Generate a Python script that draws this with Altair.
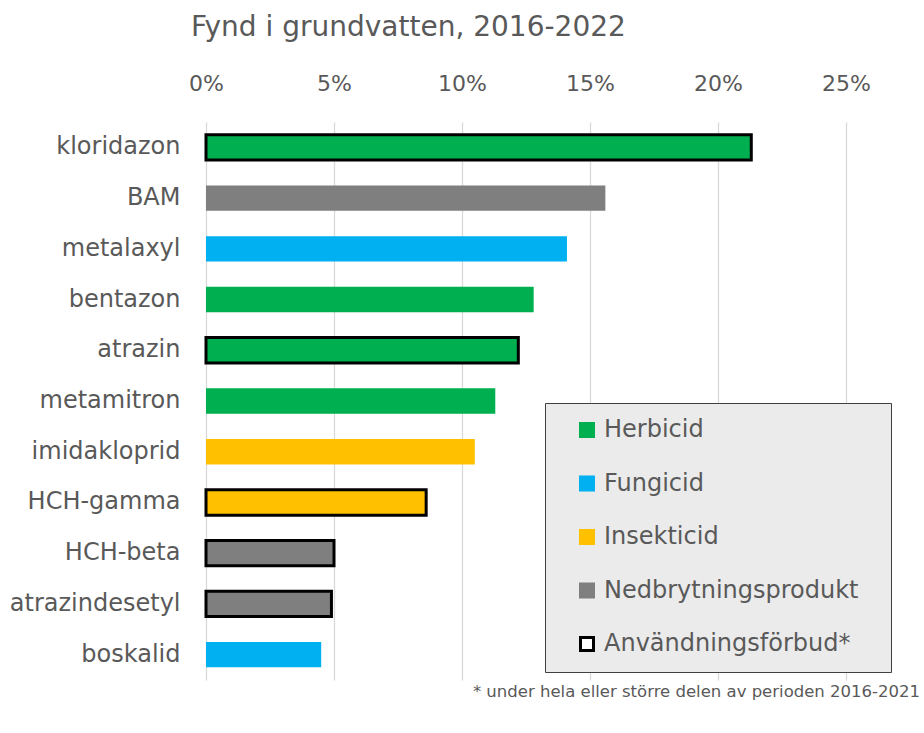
import altair as alt
import pandas as pd

names = ["kloridazon", "BAM", "metalaxyl", "bentazon", "atrazin", "metamitron",
         "imidakloprid", "HCH-gamma", "HCH-beta", "atrazindesetyl", "boskalid"]
values = [21.3, 15.6, 14.1, 12.8, 12.2, 11.3, 10.5, 8.6, 5.0, 4.9, 4.5]
kategori = ["Herbicid", "Nedbrytningsprodukt", "Fungicid", "Herbicid", "Herbicid", "Herbicid",
            "Insekticid", "Insekticid", "Nedbrytningsprodukt", "Nedbrytningsprodukt", "Fungicid"]
forbud = [True, False, False, False, True, False, False, True, True, True, False]

categories = ["Herbicid", "Fungicid", "Insekticid", "Nedbrytningsprodukt"]
category_colors = ["#00B050", "#00B0F0", "#FFC000", "#7F7F7F"]
legend_labels = categories + ["Användningsförbud*"]
fill_colors = category_colors + ["#FFFFFF"]
stroke_colors = category_colors + ["#000000"]

title_text = "Fynd i grundvatten, 2016-2022"
footnote = "* under hela eller större delen av perioden 2016-2021"
x_ticks = [0, 0.05, 0.10, 0.15, 0.20, 0.25]

FONT = "DejaVu Sans"
GREY = "#595959"
W, H = 640, 558

df = pd.DataFrame({
    "namn": names,
    "andel": [v / 100 for v in values],
    "kategori": kategori,
    "forbud": forbud,
})
leg_df = pd.DataFrame({"etikett": legend_labels})
note_df = pd.DataFrame({"t": [footnote]})

bars = alt.Chart(df).mark_bar(stroke="black").encode(
    x=alt.X("andel:Q",
            scale=alt.Scale(domain=[0, 0.25], nice=False),
            axis=alt.Axis(orient="top", format=".0%", values=x_ticks, title=None,
                          domain=False, ticks=False, grid=True, gridColor="#D9D9D9",
                          gridWidth=1.3, labelFont=FONT, labelFontSize=22,
                          labelColor=GREY, labelPadding=27, labelFlush=False)),
    y=alt.Y("namn:N", sort=names,
            scale=alt.Scale(paddingInner=0.5, paddingOuter=0.25),
            axis=alt.Axis(title=None, domain=False, ticks=False, labelFont=FONT,
                          labelFontSize=24, labelColor=GREY, labelPadding=26)),
    color=alt.Color("kategori:N",
                    scale=alt.Scale(domain=categories, range=category_colors),
                    legend=None),
    strokeWidth=alt.condition("datum.forbud", alt.value(3), alt.value(0)),
)

leg = alt.Legend(title=" ", titleOrient="right", titleFontSize=2, titlePadding=17,
                 orient="none", legendX=339, legendY=281,
                 fillColor="#EBEBEB", strokeColor="#404040",
                 padding=15, symbolType="square", symbolSize=169,
                 symbolStrokeWidth=3, symbolOffset=15, symbolOpacity=1,
                 labelFont=FONT, labelFontSize=24, labelColor=GREY,
                 labelOffset=5, rowPadding=27.5, labelLimit=400)

legend_layer = alt.Chart(leg_df).mark_square(clip=True, filled=True, size=169, opacity=1).encode(
    x=alt.value(-300),
    y=alt.value(-300),
    fill=alt.Fill("etikett:N",
                  scale=alt.Scale(domain=legend_labels, range=fill_colors),
                  legend=leg),
    stroke=alt.Stroke("etikett:N",
                      scale=alt.Scale(domain=legend_labels, range=stroke_colors),
                      legend=leg),
)

note = alt.Chart(note_df).mark_text(align="right", baseline="middle", font=FONT,
                                    fontSize=16.5, color=GREY).encode(
    text="t:N", x=alt.value(714), y=alt.value(570)
)

chart = alt.layer(bars, legend_layer, note).properties(
    width=W, height=H,
    title=alt.TitleParams(title_text, anchor="start", frame="group", dx=-15, font=FONT,
                          fontSize=28, fontWeight="normal", color=GREY, offset=30),
    autosize=alt.AutoSizeParams(type="none"),
    padding={"left": 206, "top": 122, "right": 78, "bottom": 53},
).configure_view(stroke=None)

chart.save("out.html", embed_options={"renderer": "svg", "actions": False})
